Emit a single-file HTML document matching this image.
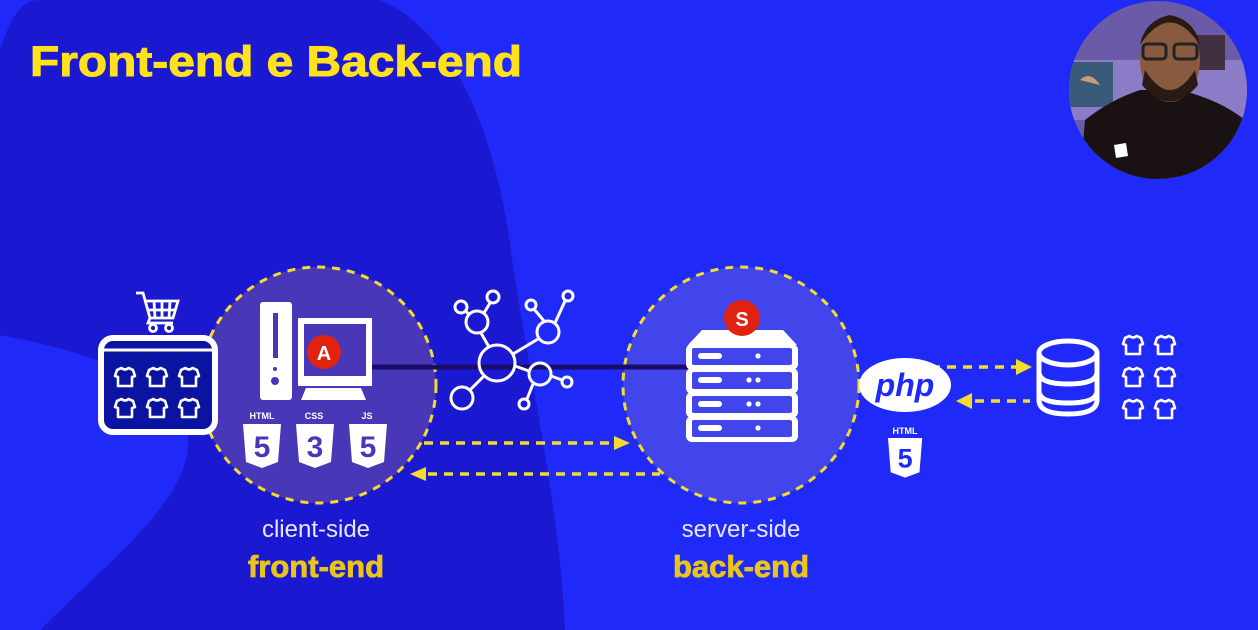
<!DOCTYPE html>
<html><head><meta charset="utf-8"><style>
html,body{margin:0;padding:0;background:#1f2af8;}
svg{display:block}
</style></head><body>
<svg width="1258" height="630" viewBox="0 0 1258 630" xmlns="http://www.w3.org/2000/svg" font-family="Liberation Sans, sans-serif">
<defs>
<clipPath id="cam"><circle cx="1158" cy="90" r="89"/></clipPath>
<g id="shirt"><path d="M-8,-7 L-3.5,-9 Q0,-6 3.5,-9 L8,-7 L10,-1 L7,0 L7,9 L-7,9 L-7,0 L-10,-1 Z" fill="none" stroke="#fff" stroke-width="2.6" stroke-linejoin="round"/></g>
<g id="shield"><path d="M0,0 L38,0 L35,38 L19,44 L3,38 Z" fill="#fff"/></g>
</defs>
<rect width="1258" height="630" fill="#1f2af8"/>
<path d="M0,50 C10,20 20,0 40,0 L380,0 C450,30 490,120 508,230 C525,360 560,500 565,630 L40,630 C110,560 190,500 188,440 C185,380 80,350 0,335 Z" fill="#1b18d2"/>
<text x="30" y="76" font-size="43" font-weight="bold" fill="#ffe11c" stroke="#ffe11c" stroke-width="1" textLength="492" lengthAdjust="spacingAndGlyphs">Front-end e Back-end</text>

<!-- webcam -->
<g clip-path="url(#cam)">
<rect x="1068" y="0" width="180" height="180" fill="#6a5aa8"/>
<rect x="1068" y="60" width="180" height="60" fill="#8c7cc8"/>
<rect x="1068" y="62" width="45" height="45" fill="#3a5a7a"/>
<path d="M1080,80 Q1090,70 1100,85 Z" fill="#c8a070"/>
<rect x="1195" y="35" width="30" height="35" fill="#403040"/>
<path d="M1080,180 L1085,120 Q1110,100 1140,90 L1180,90 Q1220,100 1245,120 L1250,180 Z" fill="#1a1212"/>
<ellipse cx="1170" cy="60" rx="30" ry="42" fill="#8a5a40"/>
<path d="M1140,45 Q1170,0 1200,45 Q1195,20 1170,15 Q1145,20 1140,45Z" fill="#2a1a14"/>
<path d="M1145,70 Q1170,110 1195,70 L1198,85 Q1170,118 1142,85 Z" fill="#2a1a14"/>
<rect x="1143" y="44" width="23" height="15" rx="4" fill="none" stroke="#222" stroke-width="3"/>
<rect x="1174" y="44" width="23" height="15" rx="4" fill="none" stroke="#222" stroke-width="3"/>
<path d="M1114,145 L1126,143 L1128,156 L1116,158 Z" fill="#fff"/>
</g>

<!-- blob circles -->
<circle cx="318" cy="385" r="118" fill="#4838b8"/>
<circle cx="741" cy="385" r="118" fill="#4244ec"/>
<circle cx="318" cy="385" r="118" fill="none" stroke="#f4dc2c" stroke-width="3" stroke-dasharray="8 7"/>
<circle cx="741" cy="385" r="118" fill="none" stroke="#f4dc2c" stroke-width="3" stroke-dasharray="8 7"/>

<!-- connecting line -->
<line x1="370" y1="367" x2="690" y2="367" stroke="#1c0c6a" stroke-width="5"/>

<!-- store -->
<rect x="101" y="338" width="114" height="94" rx="12" fill="#0b14a0" stroke="#fff" stroke-width="6"/>
<line x1="101" y1="350" x2="215" y2="350" stroke="#fff" stroke-width="3"/>
<g transform="translate(125,377)"><use href="#shirt"/></g>
<g transform="translate(157,377)"><use href="#shirt"/></g>
<g transform="translate(189,377)"><use href="#shirt"/></g>
<g transform="translate(125,408)"><use href="#shirt"/></g>
<g transform="translate(157,408)"><use href="#shirt"/></g>
<g transform="translate(189,408)"><use href="#shirt"/></g>
<!-- cart -->
<g fill="none" stroke="#fff" stroke-width="2.8">
<path d="M136,293 L143,293 L150,318 L173,318 L178,301 L146,301"/>
<line x1="154" y1="301" x2="155" y2="318"/><line x1="162" y1="301" x2="162" y2="318"/><line x1="170" y1="301" x2="169" y2="318"/>
<line x1="147" y1="310" x2="175" y2="310"/>
<circle cx="153" cy="328" r="3.5"/><circle cx="169" cy="328" r="3.5"/>
<path d="M150,318 L148,323 L173,323"/>
</g>

<!-- computer -->
<rect x="260" y="302" width="32" height="98" rx="3" fill="#fff"/>
<rect x="273" y="313" width="5" height="45" fill="#4838b8"/>
<circle cx="275" cy="369" r="2" fill="#4838b8"/><circle cx="275" cy="381" r="4" fill="#4838b8"/>
<rect x="298" y="318" width="74" height="68" fill="#fff"/>
<rect x="304" y="324" width="62" height="52" fill="#4838b8"/>
<path d="M301,400 L306,388 L361,388 L366,400 Z" fill="#fff"/>
<circle cx="324" cy="352" r="17" fill="#e0220e"/>
<text x="324" y="360" font-size="20" font-weight="bold" fill="#fff" text-anchor="middle">A</text>

<!-- shields -->
<g font-size="9" font-weight="bold" fill="#fff" text-anchor="middle">
<text x="262" y="419">HTML</text><text x="314" y="419">CSS</text><text x="367" y="419">JS</text>
</g>
<g transform="translate(243,424)"><use href="#shield"/><text x="19" y="33" font-size="30" font-weight="bold" fill="#4838b8" text-anchor="middle">5</text></g>
<g transform="translate(296,424)"><use href="#shield"/><text x="19" y="33" font-size="30" font-weight="bold" fill="#4838b8" text-anchor="middle">3</text></g>
<g transform="translate(349,424)"><use href="#shield"/><text x="19" y="33" font-size="30" font-weight="bold" fill="#4838b8" text-anchor="middle">5</text></g>

<!-- network -->
<g fill="none" stroke="#fff" stroke-width="3">
<circle cx="497" cy="363" r="18"/>
<circle cx="477" cy="322" r="11"/><circle cx="461" cy="307" r="6"/><circle cx="493" cy="297" r="6"/>
<circle cx="548" cy="332" r="11"/><circle cx="531" cy="305" r="5"/><circle cx="568" cy="296" r="5"/>
<circle cx="540" cy="374" r="11"/><circle cx="567" cy="382" r="5"/><circle cx="524" cy="404" r="5"/>
<circle cx="462" cy="398" r="11"/>
<line x1="489" y1="347" x2="481" y2="333"/><line x1="469" y1="314" x2="465" y2="311"/><line x1="484" y1="313" x2="490" y2="303"/>
<line x1="513" y1="354" x2="538" y2="339"/><line x1="544" y1="321" x2="534" y2="309"/><line x1="555" y1="323" x2="565" y2="301"/>
<line x1="515" y1="366" x2="529" y2="371"/><line x1="551" y1="376" x2="562" y2="380"/><line x1="533" y1="384" x2="527" y2="399"/>
<line x1="484" y1="376" x2="470" y2="390"/>
</g>

<!-- dashed arrows -->
<g stroke="#f4dc2c" stroke-width="3.5" stroke-dasharray="9 7" fill="none">
<line x1="424" y1="443" x2="618" y2="443"/>
<line x1="428" y1="474" x2="660" y2="474"/>
<line x1="915" y1="367" x2="1018" y2="367"/>
<line x1="975" y1="401" x2="1030" y2="401"/>
</g>
<g fill="#f4dc2c">
<path d="M614,436 L630,443 L614,450 Z"/>
<path d="M426,467 L410,474 L426,481 Z"/>
<path d="M1016,359 L1032,367 L1016,375 Z"/>
<path d="M972,393 L956,401 L972,409 Z"/>
</g>

<!-- server -->
<path d="M688,345 L702,330 L783,330 L797,345 Z" fill="#fff"/>
<g fill="#fff">
<rect x="686" y="344" width="112" height="26" rx="6"/><rect x="686" y="368" width="112" height="26" rx="6"/>
<rect x="686" y="392" width="112" height="26" rx="6"/><rect x="686" y="416" width="112" height="26" rx="6"/>
</g>
<g fill="#4244ec">
<rect x="692" y="348" width="100" height="17" rx="2"/><rect x="692" y="372" width="100" height="17" rx="2"/>
<rect x="692" y="396" width="100" height="17" rx="2"/><rect x="692" y="420" width="100" height="17" rx="2"/>
</g>
<g fill="#fff">
<rect x="698" y="353" width="24" height="6" rx="3"/><rect x="698" y="377" width="24" height="6" rx="3"/>
<rect x="698" y="401" width="24" height="6" rx="3"/><rect x="698" y="425" width="24" height="6" rx="3"/>
<circle cx="758" cy="356" r="2.6"/><circle cx="749" cy="380" r="2.6"/><circle cx="758" cy="380" r="2.6"/>
<circle cx="749" cy="404" r="2.6"/><circle cx="758" cy="404" r="2.6"/><circle cx="758" cy="428" r="2.6"/>
</g>
<circle cx="742" cy="318" r="18" fill="#e0220e"/>
<text x="742" y="326" font-size="20" font-weight="bold" fill="#fff" text-anchor="middle">S</text>

<!-- php -->
<ellipse cx="905" cy="385" rx="46" ry="27" fill="#fff"/>
<text x="905" y="396" font-size="32" font-weight="bold" font-style="italic" fill="#1f2af8" text-anchor="middle">php</text>
<text x="905" y="434" font-size="9" font-weight="bold" fill="#fff" text-anchor="middle">HTML</text>
<g transform="translate(888,438) scale(0.9)"><use href="#shield"/><text x="19" y="33" font-size="30" font-weight="bold" fill="#1f2af8" text-anchor="middle">5</text></g>

<!-- database -->
<g fill="none" stroke="#fff" stroke-width="5">
<ellipse cx="1068" cy="353" rx="29" ry="12"/>
<path d="M1039,353 L1039,400 Q1039,414 1068,414 Q1097,414 1097,400 L1097,353"/>
<path d="M1039,372 Q1039,384 1068,384 Q1097,384 1097,372"/>
<path d="M1039,391 Q1039,403 1068,403 Q1097,403 1097,391"/>
</g>
<g transform="translate(1133,345)"><use href="#shirt"/></g>
<g transform="translate(1165,345)"><use href="#shirt"/></g>
<g transform="translate(1133,377)"><use href="#shirt"/></g>
<g transform="translate(1165,377)"><use href="#shirt"/></g>
<g transform="translate(1133,409)"><use href="#shirt"/></g>
<g transform="translate(1165,409)"><use href="#shirt"/></g>

<!-- labels -->
<text x="316" y="537" font-size="24" fill="#e8e6f8" text-anchor="middle">client-side</text>
<text x="316" y="577" font-size="31" font-weight="bold" fill="#e8c41c" stroke="#e8c41c" stroke-width="0.8" text-anchor="middle">front-end</text>
<text x="741" y="537" font-size="24" fill="#e8e6f8" text-anchor="middle">server-side</text>
<text x="741" y="577" font-size="31" font-weight="bold" fill="#e8c41c" stroke="#e8c41c" stroke-width="0.8" text-anchor="middle">back-end</text>
</svg>
</body></html>
